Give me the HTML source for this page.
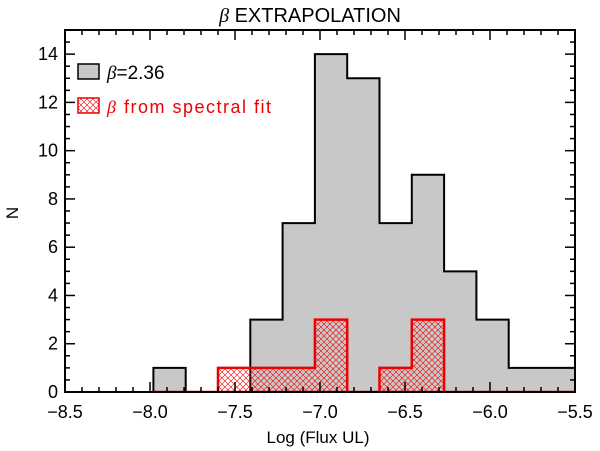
<!DOCTYPE html>
<html><head><meta charset="utf-8"><style>body{margin:0;background:#fff}svg{display:block;font-family:"Liberation Sans","DejaVu Sans",sans-serif}</style></head>
<body>
<svg id="c" width="600" height="451" viewBox="0 0 600 451">
<defs><pattern id="hatch" width="6" height="6" patternUnits="userSpaceOnUse"><path d="M0,0L6,6M6,0L0,6" stroke="#e00" stroke-width="0.6"/></pattern></defs>
</svg>
<script>
const binStart = -7.98;
const binWidth = 0.19;
const grayCounts = [1,0,0,3,7,14,13,7,9,5,3,1,1,1];
const redCounts  = [0,0,1,1,1,3,0,1,3,0,0,0,0,0];
const xTicks = ["−8.5","−8.0","−7.5","−7.0","−6.5","−6.0","−5.5"];
const xTickVals = [-8.5,-8,-7.5,-7,-6.5,-6,-5.5];
const yTickVals = [0,2,4,6,8,10,12,14];
const L=65,R=575,T=30,B=392,XMIN=-8.5,XMAX=-5.5,YMAX=15;
const X=v=>L+(v-XMIN)/(XMAX-XMIN)*(R-L);
const Y=v=>B-v/YMAX*(B-T);
const svg=document.getElementById('c');
const NS='http://www.w3.org/2000/svg';
function mk(t,a,p){const e=document.createElementNS(NS,t);for(const k in a)e.setAttribute(k,a[k]);(p||svg).appendChild(e);return e;}
function stepPath(counts){let d='M'+X(binStart)+','+B;for(let i=0;i<counts.length;i++){const x0=X(binStart+i*binWidth),x1=X(binStart+(i+1)*binWidth);d+='L'+x0+','+Y(counts[i])+'L'+x1+','+Y(counts[i]);}d+='L'+X(binStart+counts.length*binWidth)+','+B+'Z';return d;}
const clip=mk('clipPath',{id:'pc'});mk('rect',{x:L,y:T,width:R-L,height:B-T},clip);
const g=mk('g',{'clip-path':'url(#pc)'});
let e=mk('path',{d:stepPath(grayCounts),fill:'#c8c8c8',stroke:'#000','stroke-width':2},g);


e=mk('path',{d:stepPath(redCounts),fill:'url(#hatch)',stroke:'#e00','stroke-width':2.5},g);


e=mk('rect',{x:L,y:T,width:R-L,height:B-T,fill:'none',stroke:'#000','stroke-width':2});


for(let v=-8.5;v<=-5.499;v+=0.1){const maj=Math.abs(v*2-Math.round(v*2))<1e-6;const len=maj?10:5;const x=X(v);
mk('line',{x1:x,x2:x,y1:B,y2:B-len,stroke:'#000','stroke-width':1.5});mk('line',{x1:x,x2:x,y1:T,y2:T+len,stroke:'#000','stroke-width':1.5});}
for(let v=0;v<=15;v+=0.5){const maj=v%2===0;const len=maj?10:5;const y=Y(v);
mk('line',{x1:L,x2:L+len,y1:y,y2:y,stroke:'#000','stroke-width':1.5});mk('line',{x1:R,x2:R-len,y1:y,y2:y,stroke:'#000','stroke-width':1.5});}
xTickVals.forEach((v,i)=>{const t=mk('text',{x:X(v),y:418,'text-anchor':'middle','font-size':18});t.textContent=xTicks[i];

});
yTickVals.forEach(v=>{const t=mk('text',{x:L-7,y:Y(v)+6,'text-anchor':'end','font-size':18});t.textContent=v;

});
</script>
<svg width="600" height="451" style="position:absolute;left:0;top:0" font-family="Liberation Sans, sans-serif">
<text x="310" y="22" text-anchor="middle" font-size="20"><tspan font-family="Liberation Serif" font-style="italic">β</tspan>  EXTRAPOLATION</text>
<text x="318" y="443" text-anchor="middle" font-size="17">Log (Flux UL)</text>
<text x="18" y="213" text-anchor="middle" font-size="17" transform="rotate(-90 18 213)">N</text>
<g><rect x="78" y="64" width="21" height="15" fill="#c8c8c8" stroke="#000" stroke-width="1.5"/><text x="107" y="79" font-size="19"><tspan font-family="Liberation Serif" font-style="italic">β</tspan>=2.36</text></g>
<g><rect x="78" y="98" width="21" height="15" fill="url(#hatch)" stroke="#e00" stroke-width="1.5"/><text x="107" y="113" font-size="18" fill="#e00" letter-spacing="1.5"><tspan font-family="Liberation Serif" font-style="italic">β</tspan> from spectral fit</text></g>
</svg>
</body></html>
